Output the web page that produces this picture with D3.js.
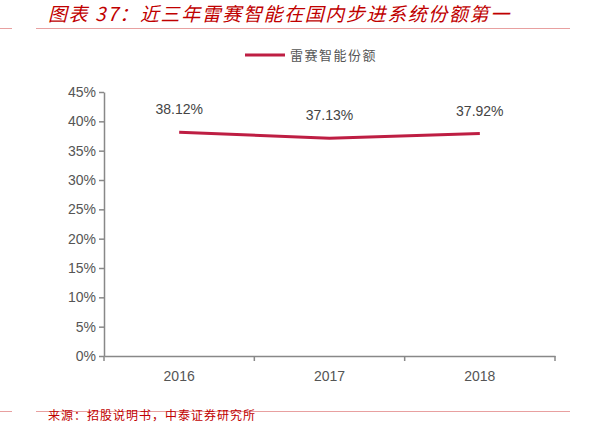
<!DOCTYPE html><html><head><meta charset="utf-8"><script src="https://cdn.jsdelivr.net/npm/d3@7"></script>
<style>body{margin:0;background:#fff}</style></head><body><svg id="c" width="605" height="424"></svg>
<script>
const categories=["2016","2017","2018"];
const values=[38.12,37.13,37.92];
const yTicks=[0,5,10,15,20,25,30,35,40,45];
const title="图表 37：近三年雷赛智能在国内步进系统份额第一";
const seriesName="雷赛智能份额";
const source="来源：招股说明书，中泰证券研究所";
const svg=d3.select("#c");
const line="#be1e43";
svg.append("text").attr("x",48).attr("y",21).attr("fill","#c00000").attr("font-size",19).attr("letter-spacing",1.6).attr("font-style","italic").attr("font-family","Noto Sans CJK SC").text(title);
[[0,12],[36,570]].forEach(([a,b])=>{svg.append("line").attr("x1",a).attr("x2",b).attr("y1",28.5).attr("y2",28.5).attr("stroke","#e8a0a0");
svg.append("line").attr("x1",a).attr("x2",b).attr("y1",411.5).attr("y2",411.5).attr("stroke","#e8a0a0");});
svg.append("text").attr("x",48).attr("y",420).attr("fill","#c00000").attr("font-size",12).attr("letter-spacing",1).attr("font-family","Noto Sans CJK SC").text(source);
const x=d3.scaleBand().domain(categories).range([104,555]);
const y=d3.scaleLinear().domain([0,45]).range([356,92]);
const g=svg.append("g");
const ya=g.append("g").attr("transform","translate(104,0)").call(d3.axisLeft(y).tickValues(yTicks).tickFormat(d=>d+"%").tickSize(5).tickSizeOuter(0));
const xa=g.append("g").attr("transform","translate(0,356)").call(d3.axisBottom(x).tickSize(5).tickSizeOuter(0));
[ya,xa].forEach(a=>{a.selectAll("path,line").attr("stroke","#888").attr("stroke-width",1.5);a.selectAll("text").attr("fill","#555").attr("font-size",14).attr("font-family","Liberation Sans");});
xa.selectAll("text").attr("dy","1.2em");
xa.selectAll(".tick line").remove();
[104,...categories.map(c=>x(c)+x.bandwidth())].forEach(v=>xa.append("line").attr("x1",v).attr("x2",v).attr("y1",0).attr("y2",5).attr("stroke","#888").attr("stroke-width",1.5));
const cx=c=>x(c)+x.bandwidth()/2;
g.append("path").datum(values).attr("fill","none").attr("stroke",line).attr("stroke-width",3)
 .attr("d",d3.line().x((d,i)=>cx(categories[i])).y(d=>y(d)));
g.selectAll(".lb").data(values).enter().append("text").attr("x",(d,i)=>cx(categories[i])).attr("y",d=>y(d)-18)
 .attr("text-anchor","middle").attr("fill","#444").attr("font-size",14).attr("font-family","Liberation Sans").text(d=>d.toFixed(2)+"%");
svg.append("line").attr("x1",245).attr("x2",285).attr("y1",55).attr("y2",55).attr("stroke",line).attr("stroke-width",3);
svg.append("text").attr("x",290).attr("y",60).attr("fill","#555").attr("font-size",13).attr("letter-spacing",1.5).attr("font-family","Noto Sans CJK SC").text(seriesName);
</script></body></html>
